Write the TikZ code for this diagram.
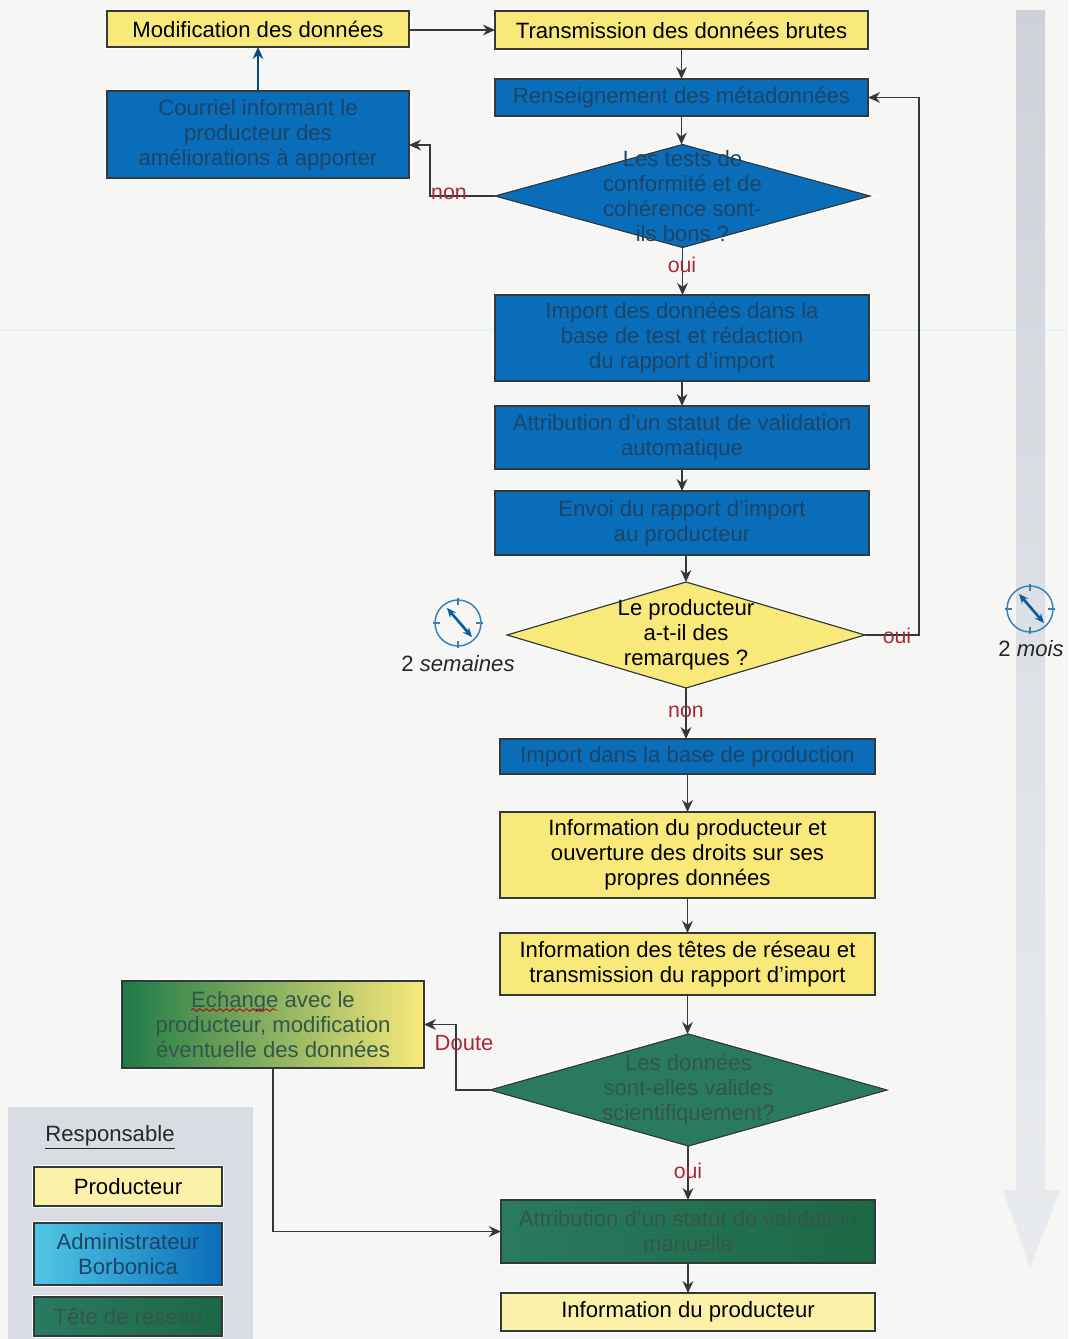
\documentclass[tikz,border=0pt]{standalone}
\usepackage{fontspec}
\setmainfont{Liberation Sans}
\usetikzlibrary{arrows.meta,shapes.geometric,decorations.pathmorphing}
\definecolor{bgc}{HTML}{F6F6F4}
\definecolor{ylw}{HTML}{F9E97A}
\definecolor{blu}{HTML}{0A6DB9}
\definecolor{grn}{HTML}{2A7A62}
\definecolor{dgrn}{HTML}{1E7A48}
\definecolor{edge}{HTML}{33393A}
\definecolor{redt}{HTML}{A82A3A}
\definecolor{bluetxt}{HTML}{1B4566}
\definecolor{grntxt}{HTML}{33564A}
\definecolor{legbg}{HTML}{D9DDE3}
\definecolor{clk}{HTML}{3D80B4}
\tikzset{
  x=0.75pt,y=-0.75pt,
  halo/.style={preaction={draw=white,line width=3pt}},
  sz/.style 2 args={minimum width=#1*0.75pt,minimum height=#2*0.75pt,inner sep=0pt,outer sep=0pt},
  flow/.style={draw=edge,line width=1.1pt,halo,align=center,font=\fontsize{16.6}{18.8}\selectfont},
  yel/.style={flow,fill=ylw,text=black},
  bl/.style={flow,fill=blu,text=bluetxt},
  gr/.style={flow,left color=grn,right color=dgrn!70!grn!85!black,text=grntxt},
  gy/.style={flow,left color=dgrn,middle color=grn!90!ylw,right color=ylw,text=grntxt},
  adm/.style={flow,left color=blu!55!cyan!70!white,right color=blu,text=bluetxt},
  pale/.style={flow,fill=ylw!65!white,text=black},
  dia/.style={diamond,draw=edge,line width=0.9pt,halo,inner sep=0pt,outer sep=0pt},
  dtext/.style={align=center,inner sep=0pt,font=\fontsize{16.6}{18.8}\selectfont},
  arr/.style={draw=edge,line width=1.2pt,-{Stealth[length=9pt,width=8pt]}},
  lab/.style={text=redt,font=\fontsize{16}{17}\selectfont,inner sep=0pt},
  tim/.style={text=black!85,font=\fontsize{16.6}{18}\selectfont,inner sep=0pt},
  clock/.pic={
    \draw[clk,line width=1.1pt] (0,0) circle (23);
    \foreach \a in {0,90,180,270} \draw[clk,line width=1.1pt] (\a:18) -- (\a:25);
    \draw[draw=blu!85!black,line width=2pt,{Stealth[length=7pt,width=6pt]}-{Stealth[length=7pt,width=6pt]}] (-11,-15) -- (14,14);
  }
}
\begin{document}
\begin{tikzpicture}
\useasboundingbox (0,0) rectangle (1068,1339);
\fill[bgc] (0,0) rectangle (1068,1339);
\fill[black!10!cyan!12!white] (0,329) rectangle (1068,331);

% time arrow on the right
\path[top color=legbg!95!black,bottom color=legbg!60!white,middle color=legbg!90!white]
  (1016,10) -- (1045,10) -- (1045,1190) -- (1060,1190) -- (1030,1268) -- (1003,1190) -- (1016,1190) -- cycle;

% flow boxes
\node[yel,sz={302}{36}] (mod) at (258,29) {Modification des données};
\node[yel,sz={373}{38}] (trans) at (681.5,30) {Transmission des données brutes};
\node[bl,sz={373}{37}] (rens) at (681.5,97.5) {Renseignement des métadonnées};
\node[bl,sz={302}{87}] (cour) at (258,134.5) {Courriel informant le\\producteur des\\améliorations à apporter};
\node[dia,fill=blu,sz={375}{103}] (d1) at (682.5,196) {};
\node[dtext,text=bluetxt] (d1t) at (d1) {Les tests de\\conformité et de\\cohérence sont-\\ils bons ?};
\node[bl,sz={374}{86}] (imp) at (682,338) {Import des données dans la\\base de test et rédaction\\du rapport d'import};
\node[bl,sz={374}{63}] (att) at (682,437.5) {Attribution d'un statut de validation\\automatique};
\node[bl,sz={374}{64}] (env) at (682,523) {Envoi du rapport d'import\\au producteur};
\node[dia,fill=ylw,sz={358}{106}] (d2) at (686,635) {};
\node[dtext,text=black] (d2t) at (d2) {Le producteur\\a-t-il des\\remarques ?};
\node[bl,sz={375}{35}] (ipr) at (687.5,756.5) {Import dans la base de production};
\node[yel,sz={375}{86}] (inf) at (687.5,855) {Information du producteur et\\ouverture des droits sur ses\\propres données};
\node[yel,sz={375}{62}] (tet) at (687.5,964) {Information des têtes de réseau et\\transmission du rapport d'import};
\node[gy,sz={302}{87}] (ech) at (273,1024.5) {Echange avec le\\producteur, modification\\éventuelle des données};
\node[dia,fill=grn,sz={397}{112}] (d3) at (688.5,1090) {};
\node[dtext,text=grntxt] (d3t) at (d3) {Les données\\sont-elles valides\\scientifiquement?};
\node[gr,sz={374}{63}] (man) at (688,1231.5) {Attribution d'un statut de validation\\manuelle};
\node[pale,sz={374}{38}] (fin) at (688,1312) {Information du producteur};

% spelling squiggle under the first word
\coordinate (sqa) at (191,1010);
\coordinate (sqb) at (277,1010);
\draw[red!70!black,line width=0.6pt,decorate,decoration={snake,amplitude=1pt,segment length=5pt}] (sqa) -- (sqb);

% legend
\fill[legbg] (8,1107) rectangle (253,1339);
\node[text=black!85,font=\fontsize{16.6}{18}\selectfont,inner sep=0pt] (lt) at (110,1137) {\underline{Responsable}};
\node[pale,sz={188}{39}] (l1) at (128,1186.5) {Producteur};
\node[adm,sz={188}{62}] (l2) at (128,1254) {Administrateur\\Borbonica};
\node[gr,sz={188}{39}] (l3) at (128,1316.5) {Tête de réseau};

% connectors
\coordinate (cnon) at (430,145);
\coordinate (coui) at (919,635);
\coordinate (cdou) at (456,1090);
\draw[arr] (mod.east |- trans.west) -- (trans.west);
\draw[arr,draw=blu!70!black,line width=1.5pt] (cour.north) -- (mod.south);
\draw[arr] (trans.south) -- (rens.north);
\draw[arr] (rens.south) -- (rens.south |- d1.north);
\draw[arr] (d1.west) -| (cnon) -- (cnon -| cour.east);
\draw[arr] (d1.south) -- (d1.south |- imp.north);
\draw[arr] (imp.south) -- (att.north);
\draw[arr] (att.south) -- (env.north);
\draw[arr] (env.south -| d2.north) -- (d2.north);
\draw[arr] (d2.east) -- (coui) |- (rens.east);
\draw[arr] (d2.south) -- (ipr.north -| d2.south);
\draw[arr] (ipr.south) -- (inf.north);
\draw[arr] (inf.south) -- (tet.north);
\draw[arr] (tet.south) -- (d3.north -| tet.south);
\draw[arr] (d3.west) -- (cdou) |- (ech.east);
\draw[arr] (ech.south) |- (man.west);
\draw[arr] (d3.south -| man.north) -- (man.north);
\draw[arr] (man.south) -- (fin.north);

% branch labels
\node[lab] (n1) at (449,194) {non};
\node[lab] (o1) at (682,265) {oui};
\node[lab] (o2) at (897,636) {oui};
\node[lab] (n2) at (686,712) {non};
\node[lab,font=\fontsize{16.5}{18}\selectfont] (dt) at (464,1043) {Doute};
\node[lab] (o3) at (688,1171) {oui};

% clocks and durations
\pic at (458,623) {clock};
\pic at (1030,609) {clock};
\node[tim] (t1) at (458,664) {2 \textit{semaines}};
\node[tim] (t2) at (1031,649) {2 \textit{mois}};
\end{tikzpicture}
\end{document}
